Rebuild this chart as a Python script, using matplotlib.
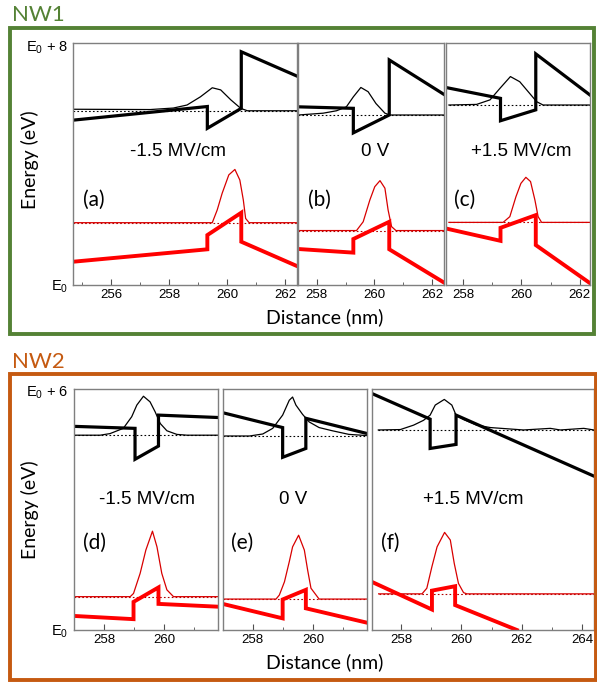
import matplotlib.pyplot as plt
from matplotlib.patches import Rectangle
from matplotlib.ticker import MultipleLocator

plt.rcParams['font.family'] = ['Liberation Sans', 'DejaVu Sans']
plt.rcParams['mathtext.fontset'] = 'custom'
plt.rcParams['mathtext.rm'] = 'Liberation Sans'

# ---- NW1 : band edges (thick) and wavefunctions (thin), energies in eV above E0
a_cb = [(254.7, 5.45), (259.32, 5.9), (259.32, 5.18), (260.49, 5.84), (260.49, 7.71), (262.4, 6.91)]
a_vb = [(254.7, 0.77), (259.32, 1.18), (259.32, 1.65), (260.49, 2.39), (260.49, 1.43), (262.4, 0.63)]
a_lvl_e, a_lvl_h = 5.76, 2.06
a_psi_e = [(254.7, 5.81), (257.35, 5.80), (258.15, 5.85), (258.62, 5.95), (259.08, 6.22), (259.49, 6.52),
           (259.78, 6.45), (260.13, 6.12), (260.47, 5.84), (260.7, 5.76), (262.4, 5.76)]
a_psi_h = [(254.7, 2.06), (259.49, 2.06), (259.66, 2.48), (259.83, 3.03), (260.06, 3.64), (260.27, 3.82),
           (260.44, 3.47), (260.56, 2.81), (260.64, 2.2), (260.76, 2.06), (262.4, 2.06)]

b_cb = [(257.37, 5.89), (259.27, 5.84), (259.27, 5.03), (260.51, 5.62), (260.51, 7.44), (262.4, 6.30)]
b_vb = [(257.37, 1.19), (259.27, 1.07), (259.27, 1.52), (260.51, 2.09), (260.51, 1.18), (262.4, 0.08)]
b_lvl_e, b_lvl_h = 5.62, 1.80
b_psi_e = [(257.37, 5.62), (258.23, 5.68), (258.69, 5.76), (259.03, 5.89), (259.27, 6.22), (259.53, 6.53),
           (259.78, 6.39), (260.05, 6.0), (260.36, 5.68), (260.53, 5.62), (262.4, 5.62)]
b_psi_h = [(257.37, 1.80), (259.38, 1.80), (259.61, 2.09), (259.84, 2.81), (260.01, 3.25), (260.19, 3.45),
           (260.36, 3.2), (260.47, 2.48), (260.59, 1.93), (260.74, 1.80), (262.4, 1.80)]

c_cb = [(257.4, 6.53), (259.28, 6.17), (259.28, 5.43), (260.49, 5.79), (260.49, 7.64), (262.35, 6.28)]
c_vb = [(257.4, 1.87), (259.28, 1.46), (259.28, 1.89), (260.49, 2.31), (260.49, 1.32), (262.35, 0.06)]
c_lvl_e, c_lvl_h = 5.95, 2.07
c_psi_e = [(257.51, 5.95), (258.46, 5.97), (258.92, 6.12), (259.26, 6.5), (259.62, 6.89), (259.94, 6.72),
           (260.23, 6.39), (260.52, 6.06), (260.74, 5.95), (262.35, 5.95)]
c_psi_h = [(257.51, 2.07), (259.37, 2.07), (259.6, 2.26), (259.81, 2.92), (259.98, 3.36), (260.15, 3.56),
           (260.31, 3.42), (260.46, 2.81), (260.57, 2.26), (260.69, 2.07), (262.35, 2.07)]

# ---- NW2
d_cb = [(257.0, 5.07), (259.03, 5.02), (259.03, 4.25), (259.81, 4.58), (259.81, 5.35), (261.8, 5.29)]
d_vb = [(257.0, 0.35), (258.98, 0.27), (258.98, 0.70), (259.81, 1.06), (259.81, 0.65), (261.8, 0.58)]
d_lvl_e, d_lvl_h = 4.85, 0.83
d_psi_e = [(257.0, 4.85), (257.87, 4.85), (258.2, 4.89), (258.64, 5.02), (258.92, 5.31), (259.09, 5.60),
           (259.31, 5.82), (259.53, 5.68), (259.7, 5.43), (259.87, 5.14), (260.09, 4.96), (260.42, 4.87),
           (260.76, 4.85), (261.8, 4.85)]
d_psi_h = [(257.0, 0.83), (258.87, 0.83), (258.98, 0.91), (259.2, 1.41), (259.39, 1.99), (259.61, 2.46),
           (259.76, 2.07), (259.92, 1.41), (260.09, 1.0), (260.31, 0.83), (261.8, 0.83)]

e_cb = [(257.0, 5.41), (258.99, 5.04), (258.99, 4.30), (259.76, 4.52), (259.76, 5.27), (261.8, 4.89)]
e_vb = [(257.0, 0.65), (258.99, 0.29), (258.99, 0.76), (259.76, 1.0), (259.76, 0.54), (261.8, 0.18)]
e_lvl_e, e_lvl_h = 4.83, 0.77
e_psi_e = [(257.0, 4.83), (257.89, 4.83), (258.33, 4.88), (258.66, 5.02), (258.99, 5.35), (259.21, 5.72),
           (259.32, 5.80), (259.43, 5.60), (259.65, 5.37), (259.87, 5.18), (260.2, 5.04), (260.64, 4.96),
           (261.19, 4.87), (261.8, 4.84)]
e_psi_h = [(257.0, 0.77), (258.77, 0.77), (258.88, 0.87), (259.05, 1.2), (259.21, 1.70), (259.32, 2.07),
           (259.52, 2.36), (259.71, 1.99), (259.82, 1.49), (259.93, 1.04), (260.2, 0.77), (261.8, 0.77)]

f_cb = [(257.02, 5.89), (258.96, 5.25), (258.96, 4.52), (259.82, 4.62), (259.82, 5.35), (264.4, 3.83)]
f_vb = [(257.02, 1.20), (259.02, 0.51), (259.02, 0.98), (259.79, 1.09), (259.79, 0.62), (261.84, 0.0)]
f_lvl_e, f_lvl_h = 4.98, 0.90
f_psi_e = [(257.24, 4.98), (257.97, 4.99), (258.41, 5.10), (258.74, 5.22), (258.96, 5.35), (259.13, 5.60),
           (259.43, 5.74), (259.68, 5.60), (259.82, 5.35), (260.07, 5.24), (260.51, 5.10), (260.96, 5.04),
           (262.06, 4.98), (262.95, 5.02), (263.28, 4.98), (264.06, 5.02), (264.4, 4.98)]
f_psi_h = [(257.25, 0.90), (258.69, 0.90), (258.85, 1.04), (259.02, 1.58), (259.19, 2.07), (259.44, 2.43),
           (259.63, 2.24), (259.76, 1.66), (259.9, 1.16), (260.07, 0.93), (260.18, 0.90), (264.4, 0.90)]

xlims = {'a': (254.7, 262.4), 'b': (257.37, 262.4), 'c': (257.4, 262.35),
         'd': (257.0, 261.8), 'e': (257.0, 261.8), 'f': (257.02, 264.4)}
fields = ['-1.5 MV/cm', '0 V', '+1.5 MV/cm']

W, H = 597, 682
GREEN = '#548235'
ORANGE = '#c55a11'


def fx(x):
    return x / W


def fy(y):
    return 1 - y / H


def px_box(l, r, t, b):
    return [l / W, 1 - b / H, (r - l) / W, (b - t) / H]


def draw(ax, cb, vb, psi_e, lvl_e, psi_h, lvl_h, xlim, ymax):
    # energy levels (dotted) sit under the wavefunction baselines
    ax.hlines(lvl_e, psi_e[0][0], psi_e[-1][0], colors='k', lw=0.8, linestyles=(0, (1.5, 2)))
    ax.hlines(lvl_h, psi_h[0][0], psi_h[-1][0], colors='#b00000', lw=0.8, linestyles=(0, (1.5, 2)))
    ax.plot([p[0] for p in psi_e], [p[1] for p in psi_e], color='k', lw=0.9)
    ax.plot([p[0] for p in psi_h], [p[1] for p in psi_h], color='#d80000', lw=0.9)
    ax.plot([p[0] for p in cb], [p[1] for p in cb], color='k', lw=2.3, solid_joinstyle='miter')
    ax.plot([p[0] for p in vb], [p[1] for p in vb], color='#ff0000', lw=2.8, solid_joinstyle='miter')
    ax.set_xlim(xlim)
    ax.set_ylim(0, ymax)
    ax.set_yticks([])
    ax.xaxis.set_major_locator(MultipleLocator(2))
    ax.xaxis.set_minor_locator(MultipleLocator(1))
    ax.tick_params(axis='x', which='both', direction='in', color='#505050', labelsize=9.5, pad=3)
    ax.tick_params(axis='x', which='major', length=4)
    ax.tick_params(axis='x', which='minor', length=2.5)
    for s in ax.spines.values():
        s.set_color('#7f7f7f')
        s.set_linewidth(1.0)


fig = plt.figure(figsize=(W / 100, H / 100), dpi=100)

# NW1 row
ax_a = fig.add_axes(px_box(73.3, 296.7, 43, 285))
ax_b = fig.add_axes(px_box(298.3, 444, 43, 285))
ax_c = fig.add_axes(px_box(445.7, 590, 43, 285))
draw(ax_a, a_cb, a_vb, a_psi_e, a_lvl_e, a_psi_h, a_lvl_h, xlims['a'], 8)
draw(ax_b, b_cb, b_vb, b_psi_e, b_lvl_e, b_psi_h, b_lvl_h, xlims['b'], 8)
draw(ax_c, c_cb, c_vb, c_psi_e, c_lvl_e, c_psi_h, c_lvl_h, xlims['c'], 8)

# NW2 row
ax_d = fig.add_axes(px_box(74, 218.3, 389, 630))
ax_e = fig.add_axes(px_box(222.7, 367.3, 389, 630))
ax_f = fig.add_axes(px_box(371.7, 594, 389, 630))
draw(ax_d, d_cb, d_vb, d_psi_e, d_lvl_e, d_psi_h, d_lvl_h, xlims['d'], 6)
draw(ax_e, e_cb, e_vb, e_psi_e, e_lvl_e, e_psi_h, e_lvl_h, xlims['e'], 6)
draw(ax_f, f_cb, f_vb, f_psi_e, f_lvl_e, f_psi_h, f_lvl_h, xlims['f'], 6)

# field labels and panel letters
for (x, y), t in zip([(178, 151), (375, 151), (521, 151)], fields):
    fig.text(fx(x), fy(y), t, ha='center', va='center', fontsize=13.5)
for (x, y), t in zip([(147, 499), (293, 499), (473, 499)], fields):
    fig.text(fx(x), fy(y), t, ha='center', va='center', fontsize=13.5)
for (x, y), t in zip([(93.5, 200), (319, 200), (465, 200), (94, 543), (242.5, 543), (390, 543)],
                     ['(a)', '(b)', '(c)', '(d)', '(e)', '(f)']):
    fig.text(fx(x), fy(y), t, ha='center', va='center', fontsize=15, family=['Lato', 'DejaVu Sans'])

# energy marks
fig.text(fx(68), fy(48), r'$\mathregular{E_0}$ + 8', ha='right', va='center', fontsize=10.5)
fig.text(fx(68), fy(287), r'$\mathregular{E_0}$', ha='right', va='center', fontsize=10.5)
fig.text(fx(68), fy(393), r'$\mathregular{E_0}$ + 6', ha='right', va='center', fontsize=10.5)
fig.text(fx(68), fy(632), r'$\mathregular{E_0}$', ha='right', va='center', fontsize=10.5)

# axis titles
for y in (160, 510):
    fig.text(fx(30), fy(y), 'Energy (eV)', rotation=90, ha='center', va='center',
             fontsize=14, family=['Lato', 'DejaVu Sans'])
for y in (317, 662):
    fig.text(fx(325), fy(y), 'Distance (nm)', ha='center', va='center',
             fontsize=14, family=['Lato', 'DejaVu Sans'])

# group boxes
fig.text(fx(12), fy(15), 'NW1', ha='left', va='center', fontsize=16, color=GREEN,
         family=['Lato', 'DejaVu Sans'])
fig.text(fx(12), fy(362), 'NW2', ha='left', va='center', fontsize=16, color=ORANGE,
         family=['Lato', 'DejaVu Sans'])
fig.add_artist(Rectangle((fx(10), fy(334)), (594 - 10) / W, (334 - 28) / H, fill=False,
                         edgecolor=GREEN, lw=2.8, transform=fig.transFigure))
fig.add_artist(Rectangle((fx(10), fy(680)), (596 - 10) / W, (680 - 374) / H, fill=False,
                         edgecolor=ORANGE, lw=2.8, transform=fig.transFigure))

fig.savefig('out.png', dpi=100)
